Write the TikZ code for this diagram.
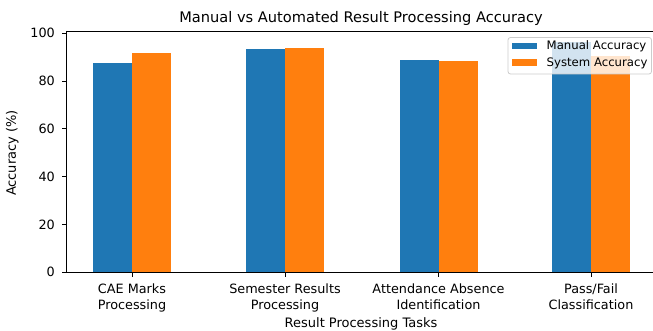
\documentclass[tikz,border=0pt]{standalone}
\usepackage{fontspec}
\setmainfont{DejaVu Sans}
\definecolor{mblue}{HTML}{1F77B4}
\definecolor{morange}{HTML}{FF7F0E}
\definecolor{legedge}{HTML}{CCCCCC}
\begin{document}
\begin{tikzpicture}[x=1pt,y=-1pt,
  ticklab/.style={font=\fontsize{12.8}{15.7}\selectfont, inner sep=0pt},
  axlab/.style={font=\fontsize{13}{16}\selectfont, inner sep=0pt},
  leglab/.style={font=\fontsize{11.7}{14}\selectfont, inner sep=0pt},
  spine/.style={line width=0.9pt, black},
  tickmark/.style={line width=0.9pt, black}]
\useasboundingbox (0,0) rectangle (653,331);
\begin{scope}
\clip (0,0) rectangle (653,331);
% bars: value v -> y = 272.3 - 2.39 v
\foreach \c/\m/\s in {132/87.6/91.9, 285/93.3/93.8, 438.5/89.0/88.4, 591/96.2/90.4}{
  \fill[mblue] (\c-39,272.3) rectangle (\c,272.3-2.39*\m);
  \fill[morange] (\c,272.3) rectangle (\c+39,272.3-2.39*\s);
}
% spines
\draw[spine] (66.7,31) -- (66.7,272.3) -- (660,272.3);
\draw[spine] (66.7,31) -- (660,31);
\end{scope}
% y ticks
\foreach \v in {0,20,40,60,80,100}{
  \draw[tickmark] (66.7,272.3-2.39*\v) -- (62,272.3-2.39*\v);
  \node[ticklab, anchor=east] (yt\v) at (55,272.3-2.39*\v) {\v};
}
% x ticks
\foreach \c in {132,285,438.5,591}{
  \draw[tickmark] (\c,272.3) -- (\c,277);
}
\node[ticklab, align=center, anchor=north] (xt1) at (132,283.5) {CAE Marks\\Processing};
\node[ticklab, align=center, anchor=north] (xt2) at (285,283.5) {Semester Results\\Processing};
\node[ticklab, align=center, anchor=north] (xt3) at (438.5,283.5) {Attendance Absence\\Identification};
\node[ticklab, align=center, anchor=north] (xt4) at (591,283.5) {Pass/Fail\\Classification};
% axis labels
\node[axlab, anchor=base] (xlab) at (361,327.5) {Result Processing Tasks};
\node[axlab, rotate=90, anchor=base] (ylab) at (16,153) {Accuracy (\%)};
% title
\node[inner sep=0pt, font=\fontsize{14.6}{17}\selectfont, anchor=base] (title) at (361,22.7) {Manual vs Automated Result Processing Accuracy};
% legend
\draw[draw=legedge, fill=white, fill opacity=0.8, rounded corners=2.5pt, line width=0.8pt] (508,37.5) rectangle (651.5,74);
\fill[mblue] (512,42.7) rectangle (537,49.3);
\fill[morange] (512,59.3) rectangle (537,65.7);
\node[leglab, anchor=base west] (leg1) at (546.5,50) {Manual Accuracy};
\node[leglab, anchor=base west] (leg2) at (546.5,66.5) {System Accuracy};
\end{tikzpicture}
\end{document}
